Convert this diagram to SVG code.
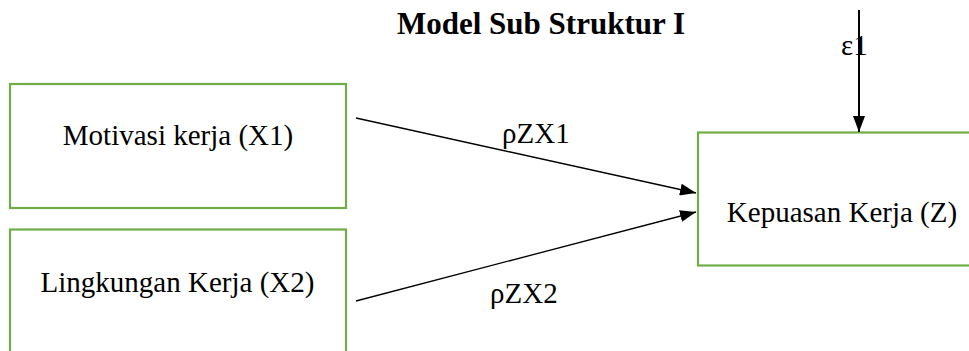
<svg xmlns="http://www.w3.org/2000/svg" width="969" height="351" viewBox="0 0 969 351">
<style>
.box{fill:#fff;stroke:#70AD47;stroke-width:2.2}
text{font-family:'Liberation Serif','Times New Roman','DejaVu Serif',serif;fill:#000}
.t{font-size:29px}
.title{font-size:31px;font-weight:bold}
.c{stroke:#000;fill:none}
</style>
<defs>
<marker id="ah" markerUnits="userSpaceOnUse" markerWidth="18" markerHeight="12" refX="16" refY="6" orient="auto">
<path d="M0,0 L16,6 L0,12 z" fill="#000"/>
</marker>
</defs>
<text class="title" x="541" y="34" text-anchor="middle">Model Sub Struktur I</text>
<g id="x1">
<rect class="box" x="10" y="84" width="336" height="124"/>
<text class="t" x="178" y="145" text-anchor="middle">Motivasi kerja (X1)</text>
</g>
<g id="x2">
<rect class="box" x="10" y="229.5" width="336" height="140"/>
<text class="t" x="177.5" y="292" text-anchor="middle">Lingkungan Kerja (X2)</text>
</g>
<g id="z">
<rect class="box" x="698" y="132.5" width="290" height="133"/>
<text class="t" x="842" y="222" text-anchor="middle">Kepuasan Kerja (Z)</text>
</g>
<g id="connectors">
<line class="c" x1="356" y1="118" x2="696" y2="193" stroke-width="1.3" marker-end="url(#ah)"/>
<line class="c" x1="356" y1="301" x2="696" y2="212" stroke-width="1.3" marker-end="url(#ah)"/>
<line class="c" x1="859" y1="10" x2="859" y2="132" stroke-width="2" marker-end="url(#ah)"/>
<text class="t" x="502" y="143">ρZX1</text>
<text class="t" x="490" y="303">ρZX2</text>
<text class="t" x="841" y="55">ε1</text>
</g>
</svg>
